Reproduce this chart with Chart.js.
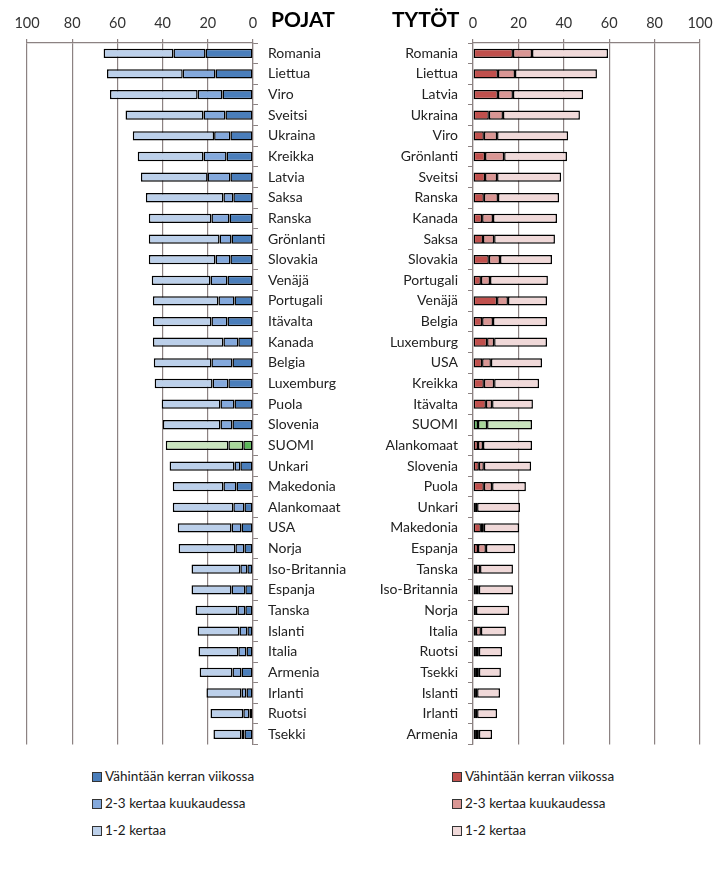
<!DOCTYPE html>
<html>
<head>
<meta charset="utf-8">
<script src="https://cdn.jsdelivr.net/npm/chart.js@4"></script>
<style>
  html, body { margin: 0; padding: 0; background: #ffffff; }
  body { width: 720px; height: 878px; position: relative; overflow: hidden; font-family: Lato, "Open Sans", sans-serif; }
  #wl { position: absolute; left: 0; top: 0; width: 360px; height: 763px; }
  #wr { position: absolute; left: 360px; top: 0; width: 360px; height: 763px; }
  .ttl { position: absolute; top: 6px; font: bold 21px Lato, sans-serif; color: #000; }
  .leg { position: absolute; font: 13.5px Lato, sans-serif; color: #1a1a1a; }
  .leg div { height: 27px; line-height: 27px; position: relative; padding-left: 13px; }
  .leg span.b { position: absolute; left: 0; top: 9px; width: 8px; height: 8px; border: 1px solid #333; }
</style>
</head>
<body>
<div id="wl"><canvas id="cl"></canvas></div>
<div id="wr"><canvas id="cr"></canvas></div>
<div class="ttl" style="left:271px;">POJAT</div>
<div class="ttl" style="left:392px;">TYTÖT</div>
<div class="leg" id="legL" style="left:92px; top:763px;"></div>
<div class="leg" id="legR" style="left:452px; top:763px;"></div>
<script>
// ---- data ----
const seriesNames = ["Vähintään kerran viikossa", "2-3 kertaa kuukaudessa", "1-2 kertaa"];
const axisTicks = [0, 20, 40, 60, 80, 100];

const boysCountries = ["Romania","Liettua","Viro","Sveitsi","Ukraina","Kreikka","Latvia","Saksa","Ranska","Grönlanti","Slovakia","Venäjä","Portugali","Itävalta","Kanada","Belgia","Luxemburg","Puola","Slovenia","SUOMI","Unkari","Makedonia","Alankomaat","USA","Norja","Iso-Britannia","Espanja","Tanska","Islanti","Italia","Armenia","Irlanti","Ruotsi","Tsekki"];
const boysWeekly  = [21.0,16.6,13.5,12.2,10.0,11.7,10.0,8.7,10.4,9.5,10.0,11.3,8.2,11.3,6.5,9.1,10.9,8.2,9.1,4.3,5.6,7.3,3.8,5.1,3.8,2.5,3.4,3.4,2.5,2.9,5.1,2.9,1.6,3.8];
const boysMonthly = [14.2,14.5,11.0,9.7,7.2,10.2,10.1,4.4,8.0,5.3,6.6,7.5,7.1,7.1,6.6,9.3,7.0,6.2,5.3,6.6,2.6,5.8,4.9,4.4,4.0,3.1,6.1,3.5,3.5,3.6,4.0,2.2,2.7,1.3];
const boysOnce    = [30.9,33.5,38.8,34.5,36.0,29.1,29.5,34.3,27.7,31.3,29.5,26.0,29.0,25.9,31.2,25.5,25.6,26.0,25.5,27.7,28.7,22.4,26.8,23.8,25.1,21.6,17.7,18.5,18.5,17.6,14.5,15.5,14.5,12.4];

const girlsCountries = ["Romania","Liettua","Latvia","Ukraina","Viro","Grönlanti","Sveitsi","Ranska","Kanada","Saksa","Slovakia","Portugali","Venäjä","Belgia","Luxemburg","USA","Kreikka","Itävalta","SUOMI","Alankomaat","Slovenia","Puola","Unkari","Makedonia","Espanja","Tanska","Iso-Britannia","Norja","Italia","Ruotsi","Tsekki","Islanti","Irlanti","Armenia"];
const girlsWeekly  = [17.6,11.0,11.0,7.0,4.8,5.3,5.3,4.8,4.0,4.4,7.0,3.5,10.6,4.0,6.2,4.0,4.8,5.7,2.2,2.2,2.6,4.8,0.9,3.5,2.2,1.3,1.3,0.4,1.3,1.3,1.3,0.9,0.9,1.3];
const girlsMonthly = [8.4,7.5,6.6,6.2,5.8,8.4,5.3,6.2,4.8,4.9,4.9,4.0,4.8,4.8,3.1,3.9,4.5,2.7,4.0,2.2,2.2,3.6,0.9,1.3,3.5,1.8,1.3,0.9,2.2,1.3,1.3,0.9,0.9,1.3];
const girlsOnce    = [33.5,36.1,30.9,33.9,31.3,27.7,28.2,26.9,28.2,26.8,22.9,25.5,17.2,23.8,23.3,22.5,19.8,18.0,19.8,21.6,20.8,14.9,18.9,15.5,12.8,14.5,15.0,14.6,11.0,10.2,9.7,10.1,8.8,5.8];

const highlight = "SUOMI";
const blues  = ["#4a7ebb", "#84a9dc", "#bcd0ea"];
const reds   = ["#c0504d", "#d99694", "#f0d9d9"];
const greens = ["#5cb85a", "#a8d69a", "#c9e4be"];

const gridColor = "#8c8282";
const tickFont = { family: "Lato, 'Open Sans', sans-serif", size: 14.5 };
const catFont  = { family: "Lato, 'Open Sans', sans-serif", size: 14 };

function makeDatasets(countries, arrays, palette) {
  return arrays.map((arr, i) => ({
    label: seriesNames[i],
    data: arr,
    backgroundColor: countries.map(c => c === highlight ? greens[i] : palette[i]),
    borderColor: "#000000",
    borderWidth: 1.5,
    borderSkipped: false,
    barPercentage: 0.45,
    categoryPercentage: 1.0
  }));
}

function makeChart(id, countries, arrays, palette, left) {
  return new Chart(document.getElementById(id), {
    type: "bar",
    data: { labels: countries, datasets: makeDatasets(countries, arrays, palette) },
    options: {
      indexAxis: "y",
      responsive: true,
      maintainAspectRatio: false,
      animation: false,
      layout: { padding: left ? { left: 27, right: 0, top: 0, bottom: 0 } : { left: 0, right: 20, top: 0, bottom: 0 } },
      plugins: { legend: { display: false }, tooltip: { enabled: false } },
      scales: {
        x: {
          type: "linear",
          position: "top",
          min: 0, max: 100,
          reverse: left,
          stacked: true,
          afterBuildTicks: s => { s.ticks = axisTicks.map(v => ({ value: v })); },
          afterFit: s => { s.height = 43; s.paddingLeft = 0; s.paddingRight = 0; },
          grid: { color: gridColor, lineWidth: 1.2, tickLength: 4, drawTicks: true },
          border: { display: true, color: gridColor, width: 1.2 },
          ticks: { color: "#333333", font: tickFont, padding: 7, maxRotation: 0 }
        },
        y: {
          type: "category",
          position: left ? "right" : "left",
          stacked: true,
          afterFit: s => { s.width = left ? 107 : 113; },
          grid: { drawOnChartArea: false, color: gridColor, tickLength: 5, offset: true },
          border: { display: true, color: gridColor, width: 1.2 },
          ticks: { color: "#222222", font: catFont, padding: 10, autoSkip: false }
        }
      }
    }
  });
}

makeChart("cl", boysCountries, [boysWeekly, boysMonthly, boysOnce], blues, true);
makeChart("cr", girlsCountries, [girlsWeekly, girlsMonthly, girlsOnce], reds, false);

function buildLegend(elId, palette) {
  const el = document.getElementById(elId);
  seriesNames.forEach((n, i) => {
    const d = document.createElement("div");
    const b = document.createElement("span");
    b.className = "b";
    b.style.background = palette[i];
    d.appendChild(b);
    d.appendChild(document.createTextNode(n));
    el.appendChild(d);
  });
}
buildLegend("legL", blues);
buildLegend("legR", reds);
</script>
</body>
</html>
